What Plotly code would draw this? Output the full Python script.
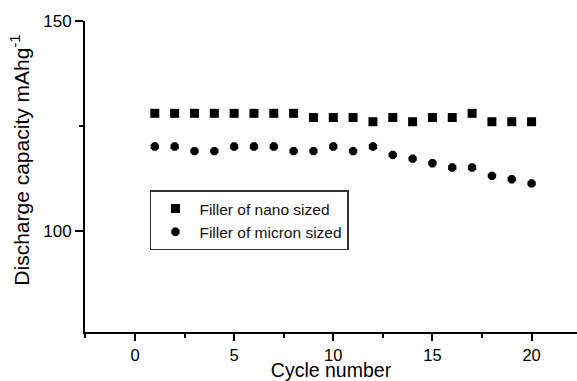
import plotly.graph_objects as go

cycles = list(range(1, 21))
nano_sized = [128, 128, 128, 128, 128, 128, 128, 128, 127, 127,
              127, 126, 127, 126, 127, 127, 128, 126, 126, 126]
micron_sized = [120.1, 120.1, 119.0, 119.0, 120.1, 120.1, 120.1, 119.0, 119.0, 120.1,
                119.0, 120.1, 118.1, 117.2, 116.1, 115.1, 115.1, 113.1, 112.3, 111.3]
series_names = ["Filler of nano sized", "Filler of micron sized"]
x_ticks = [0, 5, 10, 15, 20]
y_ticks = [100, 150]
y_title = "Discharge capacity mAhg<sup>-1</sup>"
x_title = "Cycle number"

FONT = "Arial, Liberation Sans, sans-serif"

fig = go.Figure()
fig.add_trace(go.Scatter(x=cycles, y=nano_sized, mode="markers", name=series_names[0],
                         marker=dict(symbol="square", size=9, color="black")))
fig.add_trace(go.Scatter(x=cycles, y=micron_sized, mode="markers", name=series_names[1],
                         marker=dict(symbol="octagon", size=9, color="black")))

fig.update_layout(
    width=577, height=381,
    margin=dict(l=85, r=0, t=21, b=46),
    paper_bgcolor="white", plot_bgcolor="white",
    font=dict(family=FONT, color="black"),
    showlegend=True,
    legend=dict(x=0.132, y=0.455, xanchor="left", yanchor="top",
                bordercolor="#333", borderwidth=1.5, bgcolor="white",
                font=dict(size=15.5, family=FONT, color="#111"),
                tracegroupgap=0, itemwidth=38),
    xaxis=dict(range=[-2.52, 22.29], tickvals=x_ticks, ticks="outside", ticklen=7,
               tickwidth=2, tickcolor="black", showline=True, linecolor="black",
               linewidth=2, showgrid=False, zeroline=False,
               tickfont=dict(size=16.5),
               minor=dict(tickvals=[-2.5, 2.5, 7.5, 12.5, 17.5, 22.5], ticks="outside",
                          ticklen=4, tickwidth=2, tickcolor="black"),
               title=dict(text=x_title, font=dict(size=19.5), standoff=4)),
    yaxis=dict(range=[75.9, 150], tickvals=y_ticks, ticks="outside", ticklen=8,
               tickwidth=2, tickcolor="black", showline=True, linecolor="black",
               linewidth=2, showgrid=False, zeroline=False,
               tickfont=dict(size=17),
               minor=dict(tickvals=[125], ticks="outside", ticklen=4, tickwidth=2,
                          tickcolor="black")),
    annotations=[dict(text=y_title, xref="paper", yref="paper", x=-0.132, y=0.551,
                      xanchor="center", yanchor="middle", textangle=-90,
                      showarrow=False, font=dict(size=21, family=FONT, color="black"))],
)

fig.write_html("out.html")
